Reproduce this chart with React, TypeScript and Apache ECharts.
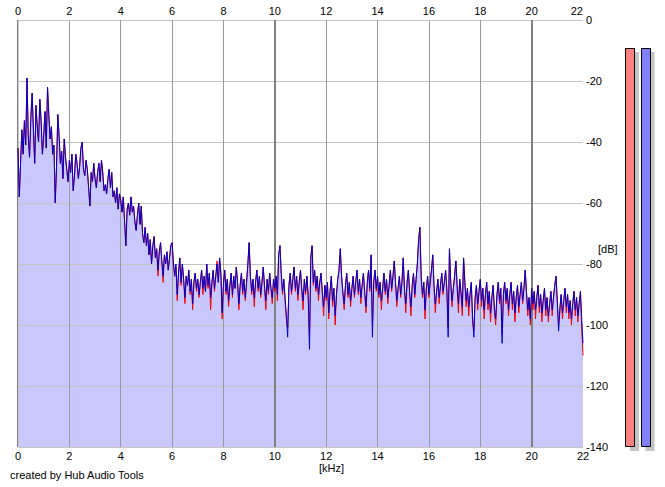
import React, { useEffect, useRef } from "react";
import * as echarts from "echarts";

// Frequency step between consecutive spectrum samples (kHz)
const FREQ_STEP_KHZ = 0.05;
const X_MIN_KHZ = 0;
const X_MAX_KHZ = 22;
const X_INTERVAL_KHZ = 2;
const Y_MIN_DB = -140;
const Y_MAX_DB = 0;
const Y_INTERVAL_DB = 20;
const BOLD_GRID_KHZ = [0, 10, 20];

// Blue channel spectrum (dB), one row per kHz, 0.05 kHz apart
const BLUE_DB = [
  -42, -58, -47, -36, -44, -33, -41, -19, -38, -45, -32, -24, -36, -47, -28, -35, -40, -26, -33, -44,
  -38, -30, -42, -22, -31, -39, -35, -44, -41, -60, -48, -31, -38, -47, -43, -52, -39, -45, -49, -53,
  -46, -50, -44, -56, -51, -44, -47, -52, -48, -42, -40, -49, -51, -46, -49, -55, -61, -50, -53, -47,
  -52, -55, -50, -47, -53, -46, -50, -56, -54, -57, -52, -49, -55, -50, -58, -56, -60, -55, -62, -57,
  -59, -63, -58, -66, -74, -62, -60, -64, -58, -63, -61, -66, -69, -64, -60, -67, -61, -70, -73, -68,
  -74, -70, -77, -72, -80, -74, -71, -78, -75, -82, -76, -73, -79, -84, -77, -80, -76, -82, -78, -74,
  -73, -79, -84, -80, -90, -83, -78, -86, -80, -85, -91, -84, -87, -82, -89, -85, -93, -86, -83, -88,
  -85, -90, -86, -82, -88, -84, -89, -80, -87, -83, -91, -86, -82, -88, -84, -80, -86, -78, -83, -96,
  -86, -82, -89, -85, -92, -87, -83, -90, -84, -88, -81, -86, -93, -87, -83, -89, -85, -91, -86, -80,
  -73, -84, -89, -85, -91, -86, -82, -88, -84, -90, -86, -81, -87, -92, -85, -89, -83, -88, -91, -85,
  -88, -84, -90, -77, -74, -83, -89, -85, -91, -97, -104, -87, -83, -89, -85, -81, -88, -84, -90, -86,
  -82, -88, -92, -85, -89, -84, -90, -108, -78, -74, -86, -82, -88, -84, -90, -86, -83, -89, -94, -87,
  -91, -86, -96, -89, -84, -92, -88, -97, -90, -85, -82, -75, -84, -89, -93, -87, -83, -90, -86, -92,
  -88, -84, -90, -86, -82, -89, -85, -91, -87, -83, -89, -94, -86, -82, -88, -77, -104, -86, -82, -88,
  -84, -90, -86, -92, -88, -83, -89, -85, -91, -87, -82, -88, -84, -79, -86, -92, -88, -84, -90, -86,
  -78, -88, -93, -86, -82, -89, -94, -87, -83, -90, -85, -80, -72, -68, -84, -90, -86, -95, -88, -84,
  -90, -86, -82, -77, -87, -93, -89, -85, -91, -87, -83, -89, -86, -82, -88, -104, -75, -86, -92, -88,
  -84, -79, -87, -93, -85, -89, -94, -78, -86, -92, -88, -94, -90, -86, -97, -104, -91, -87, -93, -89,
  -85, -92, -88, -95, -90, -86, -93, -89, -96, -91, -87, -94, -98, -90, -86, -92, -88, -106, -90, -86,
  -92, -88, -95, -90, -86, -93, -89, -96, -91, -87, -94, -90, -86, -92, -88, -82, -89, -95, -91, -98,
  -88, -93, -89, -95, -91, -87, -94, -90, -96, -92, -88, -95, -91, -97, -93, -89, -95, -91, -87, -84,
  -92, -102, -94, -90, -96, -92, -88, -94, -90, -96, -92, -98, -93, -89, -95, -91, -97, -93, -89, -98,
  -106,
];

// Red channel spectrum (dB), same frequency grid
const RED_DB = [
  -42, -58, -47, -36, -44, -33, -41, -19, -38, -45, -32, -24, -36, -47, -28, -35, -40, -26, -33, -44,
  -38, -30, -42, -22, -31, -39, -35, -44, -41, -60, -48, -31, -38, -47, -43, -52, -39, -45, -49, -53,
  -46, -50, -44, -56, -51, -44, -47, -52, -48, -42, -40, -49, -51, -46, -49, -55, -61, -50, -53, -47,
  -52, -55, -50, -47, -53, -46, -50, -56, -54, -57, -52, -49, -55, -50, -58, -56, -60, -55, -62, -57,
  -59, -63, -58, -66, -74, -62, -60, -64, -58, -63, -61, -66, -69, -64, -60, -67, -61, -70, -73, -68,
  -74, -70, -77, -72, -80, -74, -71, -78, -75, -84, -76, -73, -79, -86, -77, -80, -76, -82, -78, -74,
  -73, -80, -84, -81, -92, -83, -78, -87, -80, -85, -93, -84, -87, -82, -90, -85, -95, -86, -83, -89,
  -85, -91, -86, -82, -90, -84, -89, -80, -88, -83, -95, -86, -82, -89, -84, -79, -86, -78, -83, -98,
  -87, -82, -90, -85, -94, -87, -83, -91, -84, -88, -81, -86, -95, -87, -83, -90, -85, -92, -86, -80,
  -73, -84, -90, -85, -94, -86, -82, -89, -84, -91, -86, -81, -88, -95, -85, -90, -83, -88, -93, -85,
  -89, -84, -92, -77, -74, -83, -90, -85, -92, -98, -101, -87, -83, -90, -85, -81, -89, -84, -92, -86,
  -82, -89, -95, -85, -90, -84, -91, -104, -78, -74, -87, -82, -89, -84, -92, -86, -83, -90, -97, -87,
  -92, -86, -98, -89, -84, -94, -88, -100, -90, -85, -82, -75, -84, -90, -95, -87, -83, -91, -86, -94,
  -88, -84, -91, -86, -82, -90, -85, -93, -87, -83, -90, -96, -86, -82, -89, -77, -100, -86, -82, -89,
  -84, -91, -86, -95, -88, -83, -90, -85, -93, -87, -82, -89, -84, -79, -86, -94, -88, -84, -91, -86,
  -78, -89, -96, -86, -82, -90, -97, -87, -83, -91, -85, -80, -72, -68, -85, -91, -86, -98, -88, -84,
  -91, -86, -82, -77, -88, -96, -89, -85, -93, -87, -83, -90, -86, -82, -89, -101, -75, -86, -94, -88,
  -84, -79, -88, -96, -85, -90, -97, -78, -86, -94, -88, -97, -90, -86, -99, -102, -91, -87, -95, -89,
  -85, -94, -88, -98, -90, -86, -95, -89, -99, -91, -87, -96, -100, -90, -86, -93, -88, -103, -90, -86,
  -93, -88, -97, -90, -86, -95, -89, -99, -91, -87, -96, -90, -86, -93, -88, -82, -90, -97, -91, -100,
  -88, -95, -89, -98, -91, -87, -96, -90, -99, -92, -88, -97, -91, -99, -93, -89, -97, -91, -87, -84,
  -93, -100, -96, -90, -98, -92, -88, -96, -90, -98, -92, -100, -93, -89, -97, -91, -99, -93, -89, -101,
  -110,
];

const FONT = "'Liberation Sans', Arial, sans-serif";

export default function App() {
  const ref = useRef<HTMLDivElement>(null);

  useEffect(() => {
    if (!ref.current) return;
    const chart = echarts.init(ref.current, null, { renderer: "svg" });

    const toPairs = (arr: number[]) =>
      arr.map((v, i) => [Math.round(i * FREQ_STEP_KHZ * 100) / 100, v]);
    const blue = toPairs(BLUE_DB);
    const red = toPairs(RED_DB);

    const labelStyle = { color: "#000", fontSize: 11, fontFamily: FONT };

    chart.setOption({
      animation: false,
      backgroundColor: "#ffffff",
      textStyle: { fontFamily: FONT },
      grid: { left: 18, right: 82, top: 20, bottom: 40, containLabel: false },
      xAxis: [
        {
          type: "value",
          position: "top",
          min: X_MIN_KHZ,
          max: X_MAX_KHZ,
          interval: X_INTERVAL_KHZ,
          z: 2,
          axisLine: { show: false },
          axisTick: { show: false },
          axisLabel: { ...labelStyle, margin: 4, alignMaxLabel: "right" },
          splitLine: {
            show: true,
            showMaxLine: false,
            lineStyle: { color: "#999999", width: 1 },
          },
        },
        {
          type: "value",
          position: "bottom",
          min: X_MIN_KHZ,
          max: X_MAX_KHZ,
          interval: X_INTERVAL_KHZ,
          axisLine: { show: false },
          axisTick: { show: false },
          axisLabel: { ...labelStyle, margin: 3 },
          splitLine: { show: false },
        },
      ],
      yAxis: {
        type: "value",
        position: "right",
        min: Y_MIN_DB,
        max: Y_MAX_DB,
        interval: Y_INTERVAL_DB,
        z: 2,
        axisLine: { show: true, lineStyle: { color: "#c8c8c8", width: 1 } },
        axisTick: { show: false },
        axisLabel: { ...labelStyle, margin: 3 },
        splitLine: { show: true, lineStyle: { color: "#c4c4c4", width: 1 } },
      },
      series: [
        {
          name: "fill",
          type: "line",
          data: blue,
          symbol: "none",
          silent: true,
          z: 1,
          lineStyle: { width: 0 },
          areaStyle: { color: "#c8c8ff", opacity: 1, origin: "start" },
          markLine: {
            silent: true,
            z: 2,
            symbol: ["none", "none"],
            label: { show: false },
            lineStyle: { color: "#808080", width: 2, type: "solid" },
            data: BOLD_GRID_KHZ.map((k) => ({ xAxis: k })),
          },
        },
        {
          name: "Left",
          type: "line",
          data: red,
          symbol: "none",
          silent: true,
          z: 3,
          lineStyle: { color: "#ee0000", width: 1 },
        },
        {
          name: "Right",
          type: "line",
          data: blue,
          symbol: "none",
          silent: true,
          z: 4,
          lineStyle: { color: "#0000cc", width: 1 },
        },
      ],
      graphic: [
        { type: "text", left: 598, top: 243, style: { text: "[dB]", fill: "#000", font: `11px ${FONT}` } },
        { type: "text", left: 319, top: 462, style: { text: "[kHz]", fill: "#000", font: `11px ${FONT}` } },
        { type: "text", left: 10, top: 469, style: { text: "created by Hub Audio Tools", fill: "#000", font: `11px ${FONT}` } },
        { type: "rect", shape: { x: 630, y: 52, width: 9, height: 399 }, style: { fill: "#c4c4c4" } },
        { type: "rect", shape: { x: 645.5, y: 52, width: 9, height: 399 }, style: { fill: "#c4c4c4" } },
        { type: "rect", shape: { x: 625.5, y: 48.5, width: 9, height: 398 }, style: { fill: "#ff8080", stroke: "#000", lineWidth: 1 } },
        { type: "rect", shape: { x: 641.5, y: 48.5, width: 9, height: 398 }, style: { fill: "#8080ff", stroke: "#000", lineWidth: 1 } },
      ],
    });

    return () => chart.dispose();
  }, []);

  return (
    <div
      ref={ref}
      style={{ position: "fixed", left: 0, top: 0, width: 665, height: 487, background: "#fff" }}
    />
  );
}
